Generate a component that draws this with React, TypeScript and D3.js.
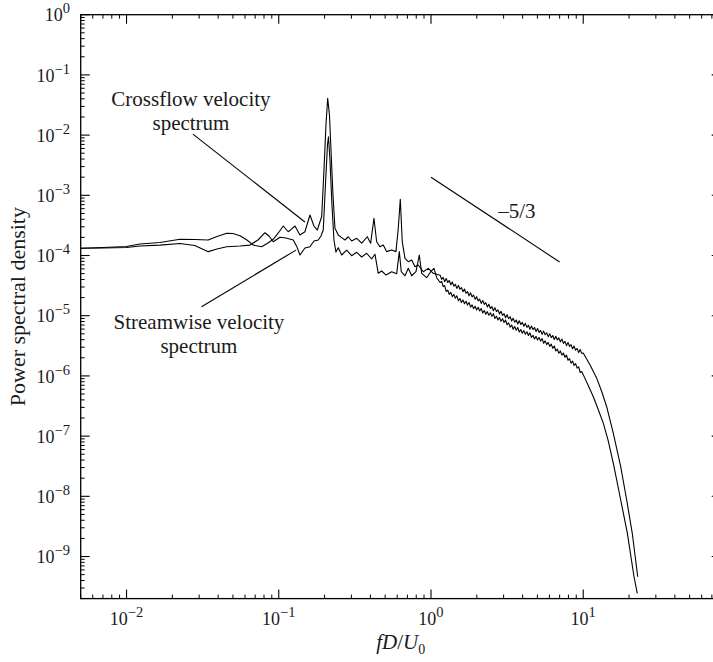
import React from 'react';
import * as d3 from 'd3';

// ---- data (frequency fD/U0, power spectral density) ----
// low / mid frequency part (f < 1.1)
const crossflowLow: [number, number][] = [
  [0.005, 1.32e-4], [0.007, 1.36e-4], [0.01, 1.41e-4], [0.01225, 1.55e-4], [0.01656, 1.64e-4],
  [0.02244, 1.86e-4], [0.0281, 1.84e-4], [0.0344, 1.81e-4], [0.0393, 2.07e-4], [0.0455, 2.34e-4],
  [0.05, 2.32e-4], [0.0556, 2.13e-4], [0.0618, 1.81e-4], [0.068, 1.49e-4], [0.0772, 1.4e-4],
  [0.0849, 1.61e-4], [0.092, 1.86e-4], [0.0993, 2.37e-4], [0.1071, 3.09e-4], [0.1154, 2.48e-4],
  [0.1212, 2.75e-4], [0.1278, 3.09e-4], [0.1378, 2.19e-4], [0.1486, 2.48e-4], [0.1603, 4.71e-4],
  [0.1703, 3.09e-4], [0.1791, 2.65e-4], [0.1913, 4.41e-4], [0.1982, 2.63e-3], [0.2042, 1.47e-2],
  [0.2096, 4.09e-2], [0.2153, 2.16e-2], [0.2203, 5.65e-3], [0.2271, 1.01e-3], [0.234, 2.83e-4],
  [0.246, 2.19e-4], [0.259, 1.98e-4], [0.2723, 1.81e-4], [0.2861, 2.05e-4], [0.3013, 1.74e-4],
  [0.325, 1.93e-4], [0.3505, 1.6e-4], [0.3816, 2.05e-4], [0.4016, 1.6e-4], [0.422, 4.15e-4],
  [0.4396, 1.69e-4], [0.4624, 1.4e-4], [0.4859, 1.49e-4], [0.5116, 1.16e-4], [0.5517, 1.23e-4],
  [0.5888, 1.16e-4], [0.6097, 2.83e-4], [0.6285, 8.59e-4], [0.6477, 1.69e-4], [0.6748, 8.98e-5],
  [0.7092, 7.89e-5], [0.7467, 8.41e-5], [0.785, 6.52e-5], [0.8253, 6.95e-5], [0.8901, 5.38e-5],
  [0.96, 6.12e-5], [1.035, 5.06e-5],
];
const streamwiseLow: [number, number][] = [
  [0.005, 1.32e-4], [0.007, 1.33e-4], [0.01, 1.36e-4], [0.01225, 1.44e-4], [0.01656, 1.49e-4],
  [0.02244, 1.58e-4], [0.0281, 1.47e-4], [0.0344, 1.16e-4], [0.0393, 1.28e-4], [0.0455, 1.4e-4],
  [0.0556, 1.44e-4], [0.0647, 1.49e-4], [0.073, 1.81e-4], [0.0812, 2.39e-4], [0.0863, 2.11e-4],
  [0.092, 1.69e-4], [0.1019, 2.01e-4], [0.1115, 1.95e-4], [0.1245, 1.81e-4], [0.1318, 1.38e-4],
  [0.1378, 1.02e-4], [0.1486, 1.33e-4], [0.1603, 1.4e-4], [0.1703, 1.74e-4], [0.1818, 1.81e-4],
  [0.1894, 2.11e-4], [0.196, 2.65e-4], [0.2026, 1.48e-3], [0.2089, 6.85e-3], [0.2121, 9.4e-3],
  [0.217, 3.86e-3], [0.2236, 6.9e-4], [0.2305, 1.81e-4], [0.2375, 1.14e-4], [0.246, 1.35e-4],
  [0.259, 1.02e-4], [0.2793, 1.23e-4], [0.3013, 9.93e-5], [0.325, 1.13e-4], [0.3505, 9.44e-5],
  [0.378, 1.09e-4], [0.4076, 8.75e-5], [0.4286, 1.05e-4], [0.4505, 5.06e-5], [0.4744, 5.53e-5],
  [0.5063, 4.74e-5], [0.5517, 5.38e-5], [0.5951, 4.99e-5], [0.6193, 1.16e-4], [0.638, 5.38e-5],
  [0.6748, 4.61e-5], [0.7092, 6.12e-5], [0.7467, 4.61e-5], [0.7967, 5.38e-5], [0.8378, 1.02e-4],
  [0.8688, 5.06e-5], [0.937, 4.28e-5], [0.9954, 5.38e-5], [1.046, 6.12e-5], [1.09, 4.28e-5],
];

// noisy inertial band (1.15 <= f <= 10), shared frequencies
const bandFreq = [
  1.148, 1.175, 1.202, 1.23, 1.259, 1.288, 1.318, 1.349, 1.38, 1.413,
  1.445, 1.479, 1.514, 1.549, 1.585, 1.622, 1.66, 1.698, 1.738, 1.778,
  1.82, 1.862, 1.905, 1.95, 1.995, 2.042, 2.089, 2.138, 2.188, 2.239,
  2.291, 2.344, 2.399, 2.455, 2.512, 2.57, 2.63, 2.692, 2.754, 2.818,
  2.884, 2.951, 3.02, 3.09, 3.162, 3.236, 3.311, 3.388, 3.467, 3.548,
  3.631, 3.715, 3.802, 3.89, 3.981, 4.074, 4.169, 4.266, 4.365, 4.467,
  4.571, 4.677, 4.786, 4.898, 5.012, 5.129, 5.248, 5.37, 5.495, 5.623,
  5.754, 5.888, 6.026, 6.166, 6.31, 6.457, 6.607, 6.761, 6.918, 7.079,
  7.244, 7.413, 7.586, 7.762, 7.943, 8.128, 8.318, 8.511, 8.71, 8.913,
  9.12, 9.333, 9.55, 9.772, 10.0,
];
const crossflowBand = [
  4.71e-5, 4.02e-5, 4.32e-5, 3.68e-5, 4.14e-5, 3.57e-5, 3.84e-5, 3.27e-5, 3.63e-5, 3.1e-5,
  3.33e-5, 2.84e-5, 3.19e-5, 2.75e-5, 2.94e-5, 2.51e-5, 2.77e-5, 2.36e-5, 2.52e-5, 2.14e-5,
  2.4e-5, 2.06e-5, 2.2e-5, 1.87e-5, 2.07e-5, 1.76e-5, 1.88e-5, 1.6e-5, 1.79e-5, 1.54e-5,
  1.65e-5, 1.4e-5, 1.55e-5, 1.32e-5, 1.42e-5, 1.21e-5, 1.36e-5, 1.17e-5, 1.25e-5, 1.07e-5,
  1.19e-5, 1.01e-5, 1.08e-5, 9.25e-6, 1.04e-5, 8.95e-6, 9.62e-6, 8.18e-6, 9.1e-6, 7.82e-6,
  8.47e-6, 7.28e-6, 8.24e-6, 7.16e-6, 7.76e-6, 6.67e-6, 7.46e-6, 6.41e-6, 6.95e-6, 5.97e-6,
  6.76e-6, 5.87e-6, 6.37e-6, 5.47e-6, 6.12e-6, 5.26e-6, 5.7e-6, 4.9e-6, 5.55e-6, 4.83e-6,
  5.22e-6, 4.49e-6, 5.02e-6, 4.33e-6, 4.68e-6, 4.02e-6, 4.55e-6, 3.96e-6, 4.29e-6, 3.68e-6,
  4.09e-6, 3.48e-6, 3.74e-6, 3.18e-6, 3.58e-6, 3.09e-6, 3.31e-6, 2.82e-6, 3.13e-6, 2.67e-6,
  2.87e-6, 2.44e-6, 2.75e-6, 2.37e-6, 2.4e-6,
];
const streamwiseBand = [
  3.56e-5, 3.71e-5, 3.04e-5, 3.17e-5, 2.51e-5, 2.67e-5, 2.26e-5, 2.44e-5, 2.07e-5, 2.26e-5,
  1.95e-5, 2.14e-5, 1.78e-5, 1.93e-5, 1.66e-5, 1.83e-5, 1.58e-5, 1.74e-5, 1.51e-5, 1.66e-5,
  1.39e-5, 1.51e-5, 1.31e-5, 1.44e-5, 1.24e-5, 1.38e-5, 1.2e-5, 1.32e-5, 1.11e-5, 1.22e-5,
  1.06e-5, 1.17e-5, 1.02e-5, 1.12e-5, 9.77e-6, 1.08e-5, 8.99e-6, 9.79e-6, 8.47e-6, 9.33e-6,
  8.07e-6, 8.89e-6, 7.69e-6, 8.47e-6, 7.08e-6, 7.59e-6, 6.46e-6, 7.0e-6, 5.96e-6, 6.61e-6,
  5.75e-6, 6.38e-6, 5.37e-6, 5.89e-6, 5.13e-6, 5.66e-6, 4.91e-6, 5.42e-6, 4.7e-6, 5.19e-6,
  4.35e-6, 4.74e-6, 4.11e-6, 4.54e-6, 3.94e-6, 4.35e-6, 3.78e-6, 4.17e-6, 3.49e-6, 3.82e-6,
  3.31e-6, 3.61e-6, 3.09e-6, 3.37e-6, 2.88e-6, 3.14e-6, 2.59e-6, 2.79e-6, 2.38e-6, 2.59e-6,
  2.21e-6, 2.4e-6, 2.04e-6, 2.21e-6, 1.82e-6, 1.94e-6, 1.63e-6, 1.76e-6, 1.49e-6, 1.6e-6,
  1.35e-6, 1.42e-6, 1.14e-6, 1.18e-6, 1.05e-6,
];

// steep high-frequency roll-off (f > 10)
const crossflowHigh: [number, number][] = [
  [11.09, 1.52e-6], [12.27, 9.12e-7], [13.19, 5.61e-7], [14.26, 3.08e-7], [15.77, 1.11e-7],
  [17.63, 3.11e-8], [19.3, 8.69e-9], [21.0, 2.43e-9], [22.8, 4.61e-10],
];
const streamwiseHigh: [number, number][] = [
  [10.75, 7.06e-7], [11.65, 4.51e-7], [12.51, 2.82e-7], [13.56, 1.63e-7], [14.56, 8.61e-8],
  [15.77, 3.53e-8], [17.46, 9.84e-9], [19.5, 2.43e-9], [21.56, 4.61e-10], [22.66, 2.45e-10],
];

const xTickExponents = [-2, -1, 0, 1];
const yTickExponents = [0, -1, -2, -3, -4, -5, -6, -7, -8, -9];
const xDomain: [number, number] = [0.005, 80];
const yDomain: [number, number] = [2e-10, 1];

// annotation anchors (data coordinates)
const slopeLine: [number, number][] = [[1, 2e-3], [7, 7.8e-5]];
const slopeLabel = { text: '\u20135/3', at: [3.67, 4.15e-4] as [number, number] };
const crossLeader: [number, number][] = [[0.0273, 1.04e-2], [0.1486, 3.6e-4]];
const streamLeader: [number, number][] = [[0.0311, 1.41e-5], [0.1297, 1.23e-4]];
const crossLabel = { lines: ['Crossflow velocity', 'spectrum'], at: [0.0265, 3.04e-2] as [number, number] };
const streamLabel = { lines: ['Streamwise velocity', 'spectrum'], at: [0.0299, 6.01e-6] as [number, number] };

const W = 713;
const H = 662;
const PL = 80.7, PR = 720.7, PT = 14.7, PB = 598.6;
const FONT = '"Liberation Serif", "Times New Roman", serif';

export default function App() {
  const x = d3.scaleLog().domain(xDomain).range([PL, PR]);
  const y = d3.scaleLog().domain(yDomain).range([PB, PT]);
  const line = d3.line<[number, number]>().x(d => x(d[0])).y(d => y(d[1]));

  const crossflow: [number, number][] = [
    ...crossflowLow,
    ...bandFreq.map((f, i) => [f, crossflowBand[i]] as [number, number]),
    ...crossflowHigh,
  ];
  const streamwise: [number, number][] = [
    ...streamwiseLow,
    ...bandFreq.map((f, i) => [f, streamwiseBand[i]] as [number, number]),
    ...streamwiseHigh,
  ];

  const minor = (lo: number, hi: number, dom: [number, number]) => {
    const out: number[] = [];
    for (let e = lo; e <= hi; e++) {
      for (let k = 2; k <= 9; k++) {
        const v = k * Math.pow(10, e);
        if (v >= dom[0] && v <= dom[1]) out.push(v);
      }
    }
    return out;
  };
  const xMinor = minor(-3, 1, xDomain);
  const yMinor = minor(-10, 0, yDomain);
  const MAJ = 9, MIN = 4;
  const sup = (e: number) => (e < 0 ? '\u2212' + Math.abs(e) : String(e));
  const TXT = '#1a1a1a';

  return (
    <svg width={W} height={H} style={{ position: 'absolute', left: 0, top: 0, background: '#fff' }}
      fontFamily={FONT}>
      <rect x={0} y={0} width={W} height={H} fill="#fff" />
      {/* frame */}
      <rect x={PL} y={PT} width={PR - PL} height={PB - PT} fill="none" stroke="#000" strokeWidth={1.3} />
      {/* x ticks bottom & top */}
      {xTickExponents.map(e => {
        const px = x(Math.pow(10, e));
        return (
          <g key={'xm' + e}>
            <line x1={px} x2={px} y1={PB} y2={PB - MAJ} stroke="#000" strokeWidth={1.1} />
            <line x1={px} x2={px} y1={PT} y2={PT + MAJ} stroke="#000" strokeWidth={1.1} />
            <text x={px} y={625} textAnchor="middle" fontSize={18} fill={TXT}>
              <tspan>10</tspan>
              <tspan dy={-8} fontSize={14.5}>{sup(e)}</tspan>
            </text>
          </g>
        );
      })}
      {xMinor.map((v, i) => (
        <g key={'xn' + i}>
          <line x1={x(v)} x2={x(v)} y1={PB} y2={PB - MIN} stroke="#000" strokeWidth={1} />
          <line x1={x(v)} x2={x(v)} y1={PT} y2={PT + MIN} stroke="#000" strokeWidth={1} />
        </g>
      ))}
      {/* y ticks left & right */}
      {yTickExponents.map(e => {
        const py = y(Math.pow(10, e));
        return (
          <g key={'ym' + e}>
            <line x1={PL} x2={PL + MAJ} y1={py} y2={py} stroke="#000" strokeWidth={1.1} />
            <line x1={PR} x2={PR - MAJ} y1={py} y2={py} stroke="#000" strokeWidth={1.1} />
            <text x={70} y={py + 6.7} textAnchor="end" fontSize={18} fill={TXT}>
              <tspan>10</tspan>
              <tspan dy={-8} fontSize={14.5}>{sup(e)}</tspan>
            </text>
          </g>
        );
      })}
      {yMinor.map((v, i) => (
        <g key={'yn' + i}>
          <line x1={PL} x2={PL + MIN} y1={y(v)} y2={y(v)} stroke="#000" strokeWidth={1} />
          <line x1={PR} x2={PR - MIN} y1={y(v)} y2={y(v)} stroke="#000" strokeWidth={1} />
        </g>
      ))}
      {/* axis titles */}
      <text x={(PL + PR) / 2} y={649} textAnchor="middle" fontSize={21} fill={TXT}>
        <tspan fontStyle="italic">fD</tspan>
        <tspan>/</tspan>
        <tspan fontStyle="italic">U</tspan>
        <tspan dy={5} fontSize={14}>0</tspan>
      </text>
      <text transform={`translate(25,${(PT + PB) / 2}) rotate(-90)`} textAnchor="middle" fontSize={22} fill={TXT}>
        Power spectral density
      </text>
      {/* spectra */}
      <path d={line(streamwise) || ''} fill="none" stroke="#000" strokeWidth={1.1} strokeLinejoin="round" />
      <path d={line(crossflow) || ''} fill="none" stroke="#000" strokeWidth={1.1} strokeLinejoin="round" />
      {/* annotations */}
      <path d={line(slopeLine) || ''} stroke="#000" strokeWidth={1.1} fill="none" />
      <path d={line(crossLeader) || ''} stroke="#000" strokeWidth={1.1} fill="none" />
      <path d={line(streamLeader) || ''} stroke="#000" strokeWidth={1.1} fill="none" />
      <text x={x(slopeLabel.at[0])} y={y(slopeLabel.at[1])} textAnchor="middle" fontSize={21} fill={TXT}>
        {slopeLabel.text}
      </text>
      {[crossLabel, streamLabel].map((lab, i) => (
        <text key={'lab' + i} x={x(lab.at[0])} y={y(lab.at[1])} textAnchor="middle" fontSize={21} fill={TXT}>
          {lab.lines.map((s, j) => (
            <tspan key={j} x={x(lab.at[0])} dy={j === 0 ? 0 : 23.5}>{s}</tspan>
          ))}
        </text>
      ))}
    </svg>
  );
}
